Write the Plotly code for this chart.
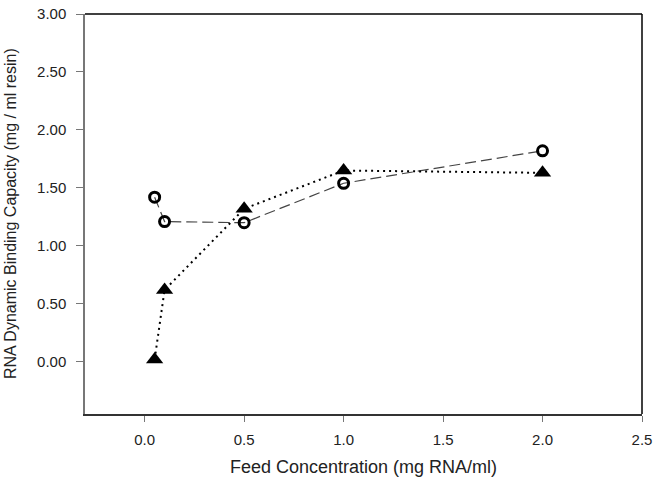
import plotly.graph_objects as go

feed_conc = [0.05, 0.1, 0.5, 1.0, 2.0]
circle_vals = [1.42, 1.21, 1.20, 1.54, 1.82]
triangle_vals = [0.02, 0.62, 1.32, 1.65, 1.63]
y_ticks = [0.0, 0.5, 1.0, 1.5, 2.0, 2.5, 3.0]
y_ticklabels = ["0.00", "0.50", "1.00", "1.50", "2.00", "2.50", "3.00"]
x_ticks = [0.0, 0.5, 1.0, 1.5, 2.0, 2.5]
x_ticklabels = ["0.0", "0.5", "1.0", "1.5", "2.0", "2.5"]
x_title = "Feed Concentration (mg RNA/ml)"
y_title = "RNA Dynamic Binding Capacity (mg / ml resin)"

fig = go.Figure()
fig.add_trace(go.Scatter(
    x=feed_conc, y=circle_vals, mode="lines+markers",
    line=dict(color="#444444", width=1.2, dash="11px,5px"),
    marker=dict(symbol="circle-open", size=10, color="black", line=dict(width=3, color="black")),
    showlegend=False))
fig.add_trace(go.Scatter(
    x=feed_conc, y=triangle_vals, mode="lines+markers",
    line=dict(color="black", width=2, dash="2px,4px"),
    marker=dict(symbol="triangle-up", size=15, color="black"),
    showlegend=False))

font = dict(family="Liberation Sans, Arial, sans-serif", size=15, color="#222222")
fig.update_layout(
    width=654, height=483,
    margin=dict(l=85, r=12, t=14, b=69),
    plot_bgcolor="white", paper_bgcolor="white",
    font=font,
    xaxis=dict(range=[-0.3, 2.5], tickvals=x_ticks, ticktext=x_ticklabels, automargin=False,
               showgrid=False, zeroline=False, showline=True, linecolor="#333333", linewidth=1.5,
               ticks="outside", ticklen=6, tickcolor="#777777", tickwidth=1, ticklabelstandoff=5),
    yaxis=dict(range=[-0.45, 3.0], tickvals=y_ticks, ticktext=y_ticklabels, automargin=False,
               showgrid=False, zeroline=False, showline=True, linecolor="#777777", linewidth=1.5,
               ticks="outside", ticklen=7, tickcolor="#777777", tickwidth=1, ticklabelstandoff=7),
)
fig.add_annotation(text=x_title, xref="paper", yref="paper", x=0.5, y=0, yshift=-53,
                   xanchor="center", yanchor="middle", showarrow=False,
                   font=dict(size=18, color="#222222"))
fig.add_annotation(text=y_title, xref="paper", yref="paper", x=0, y=0.5, xshift=-75,
                   xanchor="center", yanchor="middle", textangle=-90, showarrow=False,
                   font=dict(size=16, color="#222222"))
# top and right frame lines (black)
fig.add_shape(type="line", xref="paper", yref="paper", x0=0, x1=1, y0=1, y1=1, line=dict(color="black", width=1.5))
fig.add_shape(type="line", xref="paper", yref="paper", x0=1, x1=1, y0=0, y1=1, line=dict(color="black", width=1.5))

fig.write_html("out.html", config={"displayModeBar": False},
               post_script="document.body.style.margin='0';document.body.style.overflow='hidden';")
